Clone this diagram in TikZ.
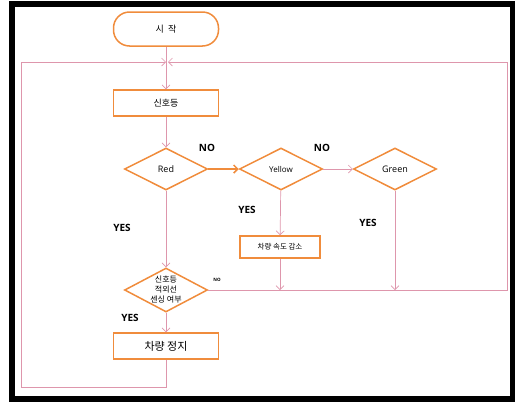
\documentclass[tikz,border=0pt]{standalone}
\usepackage{fontspec}
\setmainfont{Open Sans}
\newfontfamily\kr{Noto Sans CJK KR}
\usetikzlibrary{shapes.geometric,arrows.meta}
\definecolor{boxorange}{RGB}{240,140,60}
\definecolor{flowpink}{RGB}{222,150,172}
\tikzset {>={Straight Barb[length=4pt,width=8pt]}}
\tikzset{
  block/.style={draw=boxorange,line width=1.5pt,fill=white,inner sep=0pt,
    minimum width=105pt,minimum height=26pt},
  decision/.style={diamond,draw=boxorange,line width=1.5pt,fill=white,
    inner sep=0pt,minimum width=83pt,minimum height=42pt,font=\fontsize{9}{10}\selectfont},
  flow/.style={draw=flowpink,line width=.7pt},
  answer/.style={font=\bfseries\fontsize{10}{12}\selectfont}
}

\begin{document}
\begin{tikzpicture}[x=1pt,y=-1pt]
\useasboundingbox (0,0) rectangle (515,405);
\draw[line width=6pt] (12,4) rectangle (513,399);
% boxes
\node[block,rounded corners=16pt,minimum height=34pt,font=\kr\fontsize{9}{10}\selectfont] (start) at (166,29) {시\ \ 작};
\node[block,font=\kr\fontsize{9}{10}\selectfont] (light) at (166,103) {신호등};
\node[decision] (red) at (166,169) {Red};
\node[decision,font=\fontsize{8}{9}\selectfont] (yellow) at (281,169) {Yellow};
\node[decision] (green) at (395,169) {Green};
\node[block,minimum width=80pt,minimum height=22pt,font=\kr\fontsize{7.5}{9}\selectfont] (slow) at (280,247) {차량 속도 감소};
\node[decision,minimum height=44pt,inner sep=-5pt,align=center,font=\kr\fontsize{8}{10}\selectfont] (sensor) at (166,290) {신호등\\적외선\\센싱 여부};
\node[block,font=\kr\fontsize{11}{12}\selectfont] (stop) at (166,346) {차량 정지};
% loop points
\coordinate (merge) at (166,62);
\coordinate (leftTop) at (21,62);
\coordinate (leftBot) at (21,387);
\coordinate (stopBot) at (166,387);
\coordinate (rightTop) at (507,62);
\coordinate (rightBot) at (507,290);
\coordinate (slowIn) at (slow.south |- rightBot);
\coordinate (greenIn) at (green.south |- rightBot);
% connectors
\draw[flow] (start) -- (merge);
\draw[flow,->] (merge) -- (light);
\draw[flow,->] (light) -- (red);
\draw[->,draw=boxorange,line width=1.5pt] (red) -- (yellow);
\draw[flow,->] (yellow) -- (green);
\draw[flow,->] (yellow) -- (slow);
\draw[flow,->] (slow) -- (slowIn);
\draw[flow,->] (green) -- (greenIn);
\draw[flow,->] (red) -- (sensor);
\draw[flow,->] (sensor) -- (stop);
\draw[flow,->] (stop) -- (stopBot) -- (leftBot) -- (leftTop) -- (merge);
\draw[flow,->] (sensor.east) -- (rightBot) -- (rightTop) -- ([xshift=2pt]merge);
% labels
\node[answer] (noA) at (207,148) {NO};
\node[answer] (noB) at (322,148) {NO};
\node[answer] (yesA) at (122,228) {YES};
\node[answer] (yesB) at (247,210) {YES};
\node[answer] (yesC) at (368,223) {YES};
\node[answer] (yesD) at (130,318) {YES};
\node[font=\bfseries\fontsize{4.5}{5}\selectfont] (noC) at (217,280) {NO};
\end{tikzpicture}
\end{document}
